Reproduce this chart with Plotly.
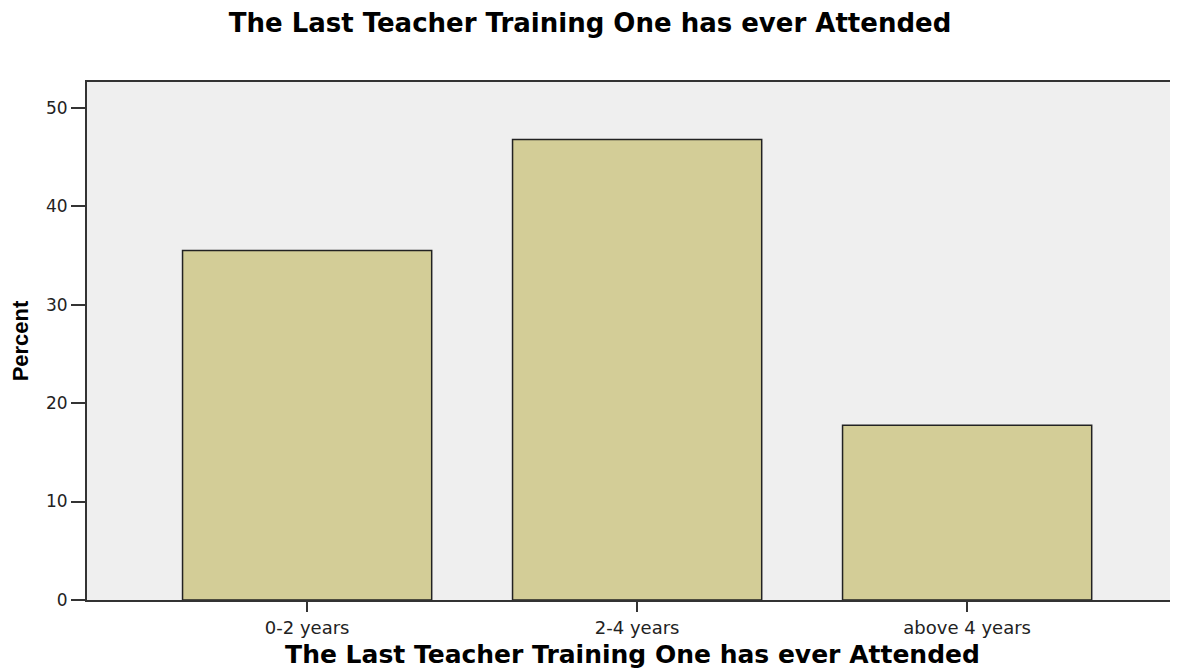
import plotly.graph_objects as go

categories = ["0-2 years", "2-4 years", "above 4 years"]
percent = [35.48, 46.77, 17.74]
y_ticks = [0, 10, 20, 30, 40, 50]

title_text = "The Last Teacher Training One has ever Attended"

# page body adds an 8px offset; margins compensate for it
OFF = 8

fig = go.Figure()
fig.add_trace(go.Bar(
    x=categories,
    y=percent,
    width=0.755,
    marker=dict(color="#D3CD97", line=dict(color="#222222", width=1.5)),
    hoverinfo="x+y",
))

fig.update_layout(
    width=1178,
    height=669,
    margin=dict(l=87 - OFF, r=OFF, t=82 - OFF, b=69 + OFF),
    paper_bgcolor="white",
    plot_bgcolor="#EFEFEF",
    showlegend=False,
    title=dict(
        text=title_text,
        x=(590 - OFF) / 1178, xref="container", xanchor="center",
        y=1 - (23 - OFF) / 669, yref="container", yanchor="middle",
        font=dict(family="DejaVu Sans", size=26, color="black", weight="bold"),
    ),
    xaxis=dict(
        type="category",
        range=[-0.667, 2.639],
        showline=True, linecolor="#333333", linewidth=2, mirror=True,
        ticks="outside", ticklen=10, tickwidth=2, tickcolor="#333333",
        tickfont=dict(family="DejaVu Sans", size=18, color="#222222"),
        showgrid=False,
        title=dict(
            text=title_text,
            font=dict(family="DejaVu Sans", size=25, color="black", weight="bold"),
            standoff=9,
        ),
    ),
    yaxis=dict(
        range=[0, 52.6],
        tickvals=y_ticks,
        showline=True, linecolor="#333333", linewidth=2,
        ticks="outside", ticklen=14, tickwidth=2, tickcolor="#333333",
        tickfont=dict(family="DejaVu Sans", size=17, color="#222222"),
        showgrid=False, zeroline=False,
        title=dict(
            text="Percent",
            font=dict(family="Liberation Sans Narrow, Liberation Sans", size=22, color="black", weight="bold"),
            standoff=12,
        ),
    ),
)

fig.write_html("out.html")
